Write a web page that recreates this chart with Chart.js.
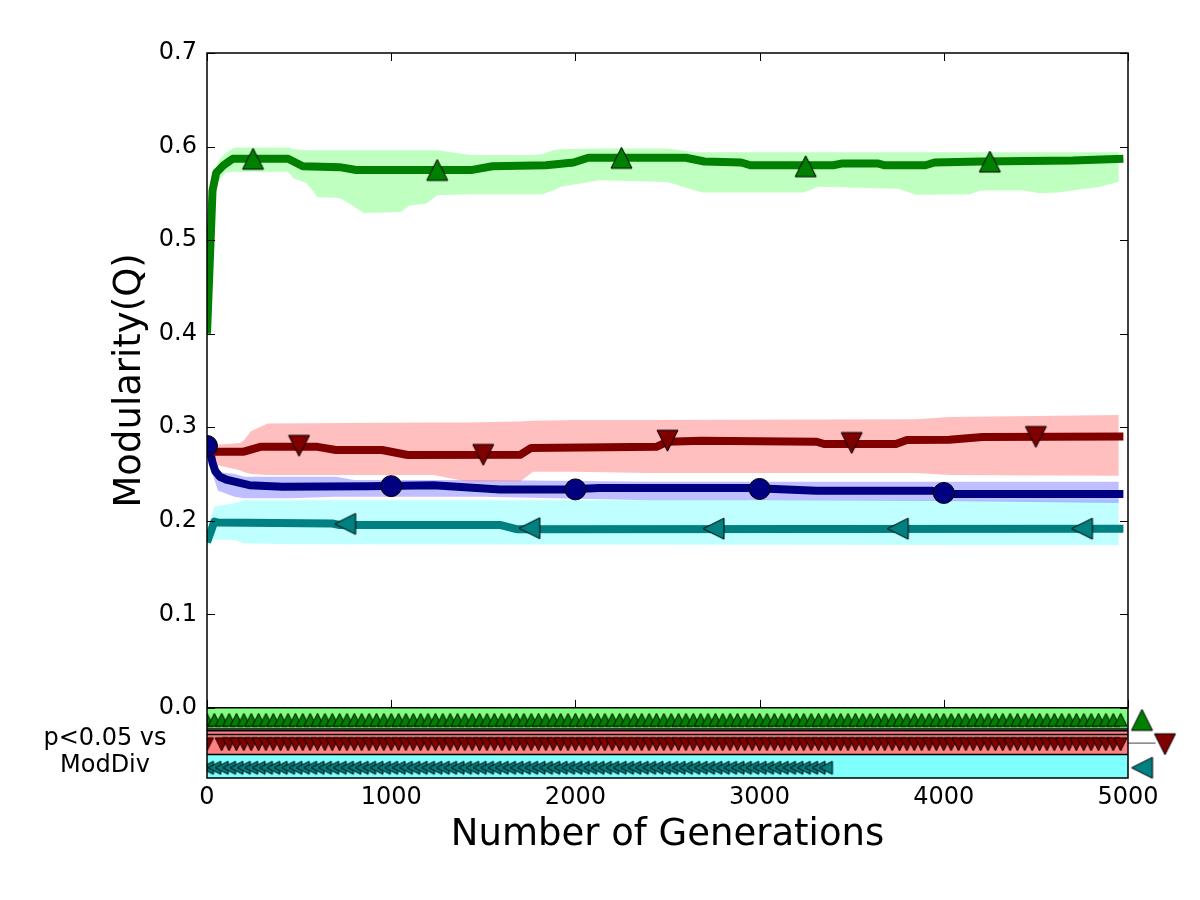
<!DOCTYPE html>
<html>
<head>
<meta charset="utf-8">
<script src="https://cdn.jsdelivr.net/npm/chart.js@4.4.1/dist/chart.umd.min.js"></script>
<style>
  html, body { margin: 0; padding: 0; background: #fff; }
  #wrap { width: 1200px; height: 900px; }
</style>
</head>
<body>
<div id="wrap"><canvas id="chart" width="1200" height="900"></canvas></div>
<script>
// axis ticks
const xTickValues = [0, 1000, 2000, 3000, 4000, 5000];
const yTickValues = [0, 0.1, 0.2, 0.3, 0.4, 0.5, 0.6, 0.7];

// green series (mean line)
const greenGen  = [0, 30, 50, 90, 140, 440, 520, 720, 810, 1440, 1550, 1840, 1990, 2070, 2600, 2700, 2900, 2950, 3400, 3450, 3640, 3680, 3900, 3950, 4200, 4700, 4975];
const greenMean = [0.400, 0.553, 0.572, 0.580, 0.587, 0.587, 0.579, 0.578, 0.575, 0.575, 0.579, 0.580, 0.583, 0.588, 0.588, 0.584, 0.583, 0.580, 0.580, 0.582, 0.582, 0.580, 0.580, 0.583, 0.584, 0.585, 0.587];
// green spread
const greenBandGen = [0, 30, 60, 100, 150, 440, 470, 540, 600, 720, 790, 850, 1050, 1100, 1190, 1250, 1430, 1770, 1820, 1880, 1920, 2130, 2500, 2650, 2690, 3240, 3320, 3750, 3850, 4140, 4200, 4430, 4520, 4620, 4850, 4950];
const greenUpper = [0.402, 0.558, 0.584, 0.593, 0.599, 0.599, 0.597, 0.596, 0.596, 0.596, 0.596, 0.596, 0.596, 0.596, 0.596, 0.596, 0.591, 0.591, 0.592, 0.596, 0.597, 0.598, 0.598, 0.594, 0.594, 0.594, 0.594, 0.594, 0.594, 0.594, 0.594, 0.594, 0.594, 0.594, 0.594, 0.594];
const greenLower = [0.398, 0.548, 0.562, 0.572, 0.573, 0.573, 0.566, 0.561, 0.546, 0.545, 0.537, 0.529, 0.530, 0.537, 0.539, 0.548, 0.549, 0.549, 0.549, 0.553, 0.557, 0.564, 0.562, 0.553, 0.551, 0.551, 0.557, 0.555, 0.5485, 0.549, 0.553, 0.553, 0.550, 0.551, 0.557, 0.5625];
const greenMarkGen = [250, 1250, 2250, 3250, 4250];
const greenMarkVal = [0.587, 0.575, 0.588, 0.579, 0.584];

// red series
const redGen  = [0, 200, 290, 600, 700, 950, 1090, 1700, 1760, 2440, 2500, 2680, 3310, 3350, 3740, 3800, 4030, 4210, 4975];
const redMean = [0.2738, 0.2738, 0.279, 0.279, 0.2756, 0.2756, 0.2703, 0.2705, 0.2778, 0.279, 0.2845, 0.2855, 0.2845, 0.282, 0.282, 0.2863, 0.2865, 0.2895, 0.290];
const redBandGen = [0, 40, 180, 200, 240, 330, 1230, 1410, 1700, 1770, 2000, 2400, 3850, 4030, 4950];
const redUpper = [0.281, 0.281, 0.283, 0.286, 0.296, 0.304, 0.305, 0.305, 0.306, 0.307, 0.3077, 0.3077, 0.3085, 0.311, 0.313];
const redLower = [0.268, 0.260, 0.254, 0.252, 0.250, 0.249, 0.249, 0.242, 0.242, 0.2525, 0.2525, 0.251, 0.251, 0.249, 0.248];
const redMarkGen = [500, 1500, 2500, 3500, 4500];
const redMarkVal = [0.280, 0.2703, 0.2855, 0.283, 0.2895];

// blue series
const blueGen  = [0, 15, 30, 45, 70, 110, 230, 410, 870, 1230, 1590, 1950, 2130, 2950, 3310, 3940, 4030, 4975];
const blueMean = [0.280, 0.276, 0.262, 0.253, 0.247, 0.2436, 0.238, 0.2364, 0.237, 0.238, 0.2335, 0.2335, 0.235, 0.235, 0.232, 0.232, 0.2286, 0.2286];
const blueBandGen = [0, 30, 60, 150, 200, 450, 700, 800, 1500, 2400, 3000, 4000, 4950];
const blueUpper = [0.283, 0.268, 0.252, 0.250, 0.247, 0.247, 0.247, 0.2436, 0.2436, 0.2418, 0.2418, 0.2418, 0.2418];
const blueLower = [0.277, 0.250, 0.232, 0.2256, 0.224, 0.224, 0.2257, 0.2257, 0.2257, 0.222, 0.222, 0.221, 0.219];
const blueMarkGen = [0, 1000, 2000, 3000, 4000];
const blueMarkVal = [0.280, 0.237, 0.2335, 0.234, 0.2297];

// teal series
const tealGen  = [0, 40, 60, 680, 720, 1590, 1680, 4975];
const tealMean = [0.177, 0.199, 0.198, 0.197, 0.1955, 0.1955, 0.191, 0.1915];
const tealBandGen = [0, 40, 150, 200, 450, 4950];
const tealUpper = [0.190, 0.215, 0.219, 0.222, 0.222, 0.222];
const tealLower = [0.172, 0.180, 0.1795, 0.176, 0.175, 0.174];
const tealMarkGen = [750, 1750, 2750, 3750, 4750];
const tealMarkVal = [0.1966, 0.192, 0.1915, 0.1915, 0.1915];

// p<0.05 vs ModDiv strip
const sigStep = 40;
const greenSigRanges = [[0, 4960]];
const redSigRanges = [[0, 0], [80, 4960]];
const tealSigRanges = [[0, 3360]];
const sigRowLevels = [-0.0128, -0.039, -0.0641];
const sigBandTop = [0, -0.0245, -0.05];
const sigBandBottom = [-0.0245, -0.05, -0.075];
const sigEdgeLevels = [0, -0.0225, -0.0245, -0.0285, -0.05];
const sigKeyGen = [5076, 5201, 5076];
const sigLinkGen = [5000, 5150];
const sigLinkVal = [-0.0377, -0.0377];

const GEN_MIN = 0, GEN_MAX = 5000;

function pts(gens, vals) {
    return gens.map((g, i) => ({ x: g, y: vals[i] }));
}

function expandRanges(ranges, level) {
    const out = [];
    ranges.forEach(([a, b]) => {
        for (let g = a; g <= b; g += sigStep) out.push({ x: g, y: level });
    });
    return out;
}

// triangle marker, centred on its bounding box like matplotlib
function triangle(size, fill) {
    const pad = 2;
    const c = document.createElement('canvas');
    c.width = size + pad * 2;
    c.height = size + pad * 2;
    const g = c.getContext('2d');
    g.beginPath();
    g.moveTo(pad + size / 2, pad);
    g.lineTo(pad + size, pad + size);
    g.lineTo(pad, pad + size);
    g.closePath();
    g.fillStyle = fill;
    g.fill();
    g.lineWidth = 1;
    g.strokeStyle = '#000';
    g.stroke();
    return c;
}

const GREEN = '#008000', RED = '#800000', BLUE = '#000080', TEAL = '#008080';

function lineSet(gens, vals, color) {
    return {
        data: pts(gens, vals), showLine: true, borderColor: color, borderWidth: 8,
        borderJoinStyle: 'round', pointRadius: 0, fill: false, clip: 0, order: 50
    };
}

function bandSets(gens, upper, lower, color) {
    return [
        { data: pts(gens, upper), showLine: true, borderWidth: 0, borderColor: 'rgba(0,0,0,0)',
          pointRadius: 0, fill: '+1', backgroundColor: color, clip: 0, order: 70 },
        { data: pts(gens, lower), showLine: true, borderWidth: 0, borderColor: 'rgba(0,0,0,0)',
          pointRadius: 0, fill: false, clip: 0, order: 70 }
    ];
}

function markSet(data, style, rotation, clip, order) {
    return {
        data: data, showLine: false, pointStyle: style, rotation: rotation,
        pointRadius: 50, clip: clip, order: order
    };
}

const datasets = [];

// significance strip
const sigColors = ['#80ff80', '#ff8080', '#80ffff'];
sigBandTop.forEach((top, i) => {
    datasets.push({
        data: pts([GEN_MIN, GEN_MAX], [top, top]), showLine: true, borderWidth: 0,
        borderColor: 'rgba(0,0,0,0)', pointRadius: 0,
        fill: { value: sigBandBottom[i] }, backgroundColor: sigColors[i], clip: 0, order: 100
    });
});
sigEdgeLevels.forEach(lv => {
    datasets.push({
        data: pts([GEN_MIN, GEN_MAX], [lv, lv]), showLine: true, borderColor: '#000',
        borderWidth: 1.5, pointRadius: 0, fill: false, clip: 0, order: 90
    });
});
datasets.push(markSet(expandRanges(greenSigRanges, sigRowLevels[0]), triangle(13, GREEN), 0, 0, 80));
datasets.push(markSet(expandRanges(redSigRanges, sigRowLevels[1]), triangle(13, RED), 180, 0, 80));
datasets.push(markSet(expandRanges(tealSigRanges, sigRowLevels[2]), triangle(13, TEAL), -90, 0, 80));

// key markers right of the strip
datasets.push({
    data: pts(sigLinkGen, sigLinkVal), showLine: true, borderColor: '#444', borderWidth: 1,
    pointRadius: 0, fill: false, clip: false, order: 35
});
datasets.push(markSet([{ x: sigKeyGen[0], y: sigRowLevels[0] }], triangle(21, GREEN), 0, false, 30));
datasets.push(markSet([{ x: sigKeyGen[1], y: sigRowLevels[1] }], triangle(21, RED), 180, false, 30));
datasets.push(markSet([{ x: sigKeyGen[2], y: sigRowLevels[2] }], triangle(21, TEAL), -90, false, 30));

// spreads
datasets.push(...bandSets(greenBandGen, greenUpper, greenLower, 'rgba(128,255,128,0.5)'));
datasets.push(...bandSets(redBandGen, redUpper, redLower, 'rgba(255,128,128,0.5)'));
datasets.push(...bandSets(blueBandGen, blueUpper, blueLower, 'rgba(128,128,255,0.5)'));
datasets.push(...bandSets(tealBandGen, tealUpper, tealLower, 'rgba(128,255,255,0.5)'));

// mean lines
datasets.push(lineSet(greenGen, greenMean, GREEN));
datasets.push(lineSet(redGen, redMean, RED));
datasets.push(lineSet(blueGen, blueMean, BLUE));
datasets.push(lineSet(tealGen, tealMean, TEAL));

// line markers
datasets.push(markSet(pts(greenMarkGen, greenMarkVal), triangle(21, GREEN), 0, 0, 40));
datasets.push(markSet(pts(redMarkGen, redMarkVal), triangle(21, RED), 180, 0, 40));
datasets.push(markSet(pts(tealMarkGen, tealMarkVal), triangle(21, TEAL), -90, 0, 40));
datasets.push({
    data: pts(blueMarkGen, blueMarkVal), showLine: false, pointStyle: 'circle', pointRadius: 10.5,
    pointBackgroundColor: BLUE, pointBorderColor: '#000', pointBorderWidth: 1, clip: 0, order: 40
});

// frame, inward ticks, y title (centred on the upper panel) and the strip label
const framePlugin = {
    id: 'frame',
    afterDatasetsDraw(chart) {
        const { ctx, chartArea: a, scales: { x, y } } = chart;
        const y0 = y.getPixelForValue(0);
        ctx.save();
        ctx.strokeStyle = '#000';
        ctx.lineWidth = 1;
        ctx.beginPath();
        xTickValues.forEach(v => {
            const px = Math.round(x.getPixelForValue(v)) + 0.5;
            ctx.moveTo(px, a.top); ctx.lineTo(px, a.top + 8);
            ctx.moveTo(px, y0); ctx.lineTo(px, y0 - 8);
        });
        yTickValues.forEach(v => {
            const py = Math.round(y.getPixelForValue(v)) + 0.5;
            ctx.moveTo(a.left, py); ctx.lineTo(a.left + 8, py);
            ctx.moveTo(a.right, py); ctx.lineTo(a.right - 8, py);
        });
        ctx.stroke();
        ctx.lineWidth = 1.5;
        ctx.strokeRect(a.left, a.top, a.right - a.left, a.bottom - a.top);

        ctx.fillStyle = '#000';
        ctx.font = '24px "DejaVu Sans"';
        ctx.textAlign = 'center';
        ctx.textBaseline = 'alphabetic';
        ctx.fillText('p<0.05 vs', 105, 745);
        ctx.fillText('ModDiv', 105, 772);

        const midY = (y.getPixelForValue(0) + y.getPixelForValue(0.7)) / 2;
        ctx.translate(130, midY);
        ctx.rotate(-Math.PI / 2);
        ctx.font = '37px "DejaVu Sans"';
        ctx.textBaseline = 'middle';
        ctx.fillText('Modularity(Q)', 0, 0);
        ctx.restore();
    }
};

Chart.defaults.font.family = '"DejaVu Sans", sans-serif';
Chart.defaults.color = '#000';

new Chart(document.getElementById('chart'), {
    type: 'line',
    data: { datasets: datasets },
    options: {
        responsive: false,
        animation: false,
        events: [],
        layout: { padding: { left: 0, right: 72, top: 53, bottom: 0 } },
        plugins: { legend: { display: false }, tooltip: { enabled: false } },
        scales: {
            x: {
                type: 'linear', min: GEN_MIN, max: GEN_MAX,
                grid: { display: false, drawTicks: false }, border: { display: false },
                afterBuildTicks: s => { s.ticks = xTickValues.map(v => ({ value: v })); },
                afterFit: s => { s.height = 122; s.paddingLeft = 0; s.paddingRight = 0; },
                ticks: { font: { size: 24 }, padding: 5, maxRotation: 0, callback: v => String(v) },
                title: { display: true, text: 'Number of Generations', font: { size: 37 }, padding: { bottom: 42, top: 0 } }
            },
            y: {
                type: 'linear', min: -0.075, max: 0.7,
                grid: { display: false, drawTicks: false }, border: { display: false },
                afterBuildTicks: s => { s.ticks = yTickValues.map(v => ({ value: v })); },
                afterFit: s => { s.width = 207; s.paddingTop = 0; s.paddingBottom = 0; },
                ticks: { font: { size: 24 }, padding: 10, callback: v => v.toFixed(1) },
                title: { display: false }
            }
        }
    },
    plugins: [framePlugin]
});
</script>
</body>
</html>
